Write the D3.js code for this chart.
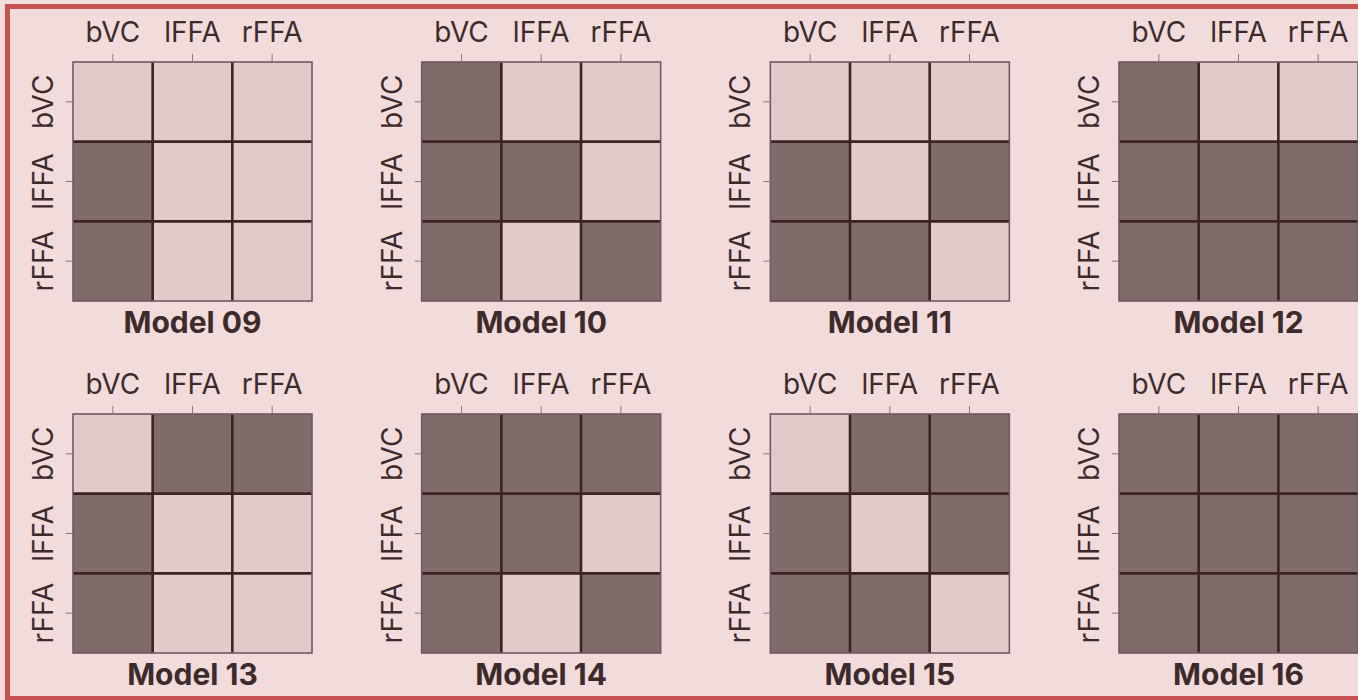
<!DOCTYPE html>
<html>
<head>
<meta charset="utf-8">
<script src="https://cdn.jsdelivr.net/npm/d3@7"></script>
<style>
  html, body { margin: 0; padding: 0; background: #f2dcdb; }
  svg { display: block; }
  text { font-family: Inter, "Noto Sans", sans-serif; fill: #3d2b2b; }
</style>
</head>
<body>
<svg id="chart" width="1358" height="700"></svg>
<script>
// Region labels (rows and columns of every matrix)
const regions = ["bVC", "lFFA", "rFFA"];
// Model names
const models = ["Model 09", "Model 10", "Model 11", "Model 12",
                "Model 13", "Model 14", "Model 15", "Model 16"];
// Connection matrices: 1 = present (dark), 0 = absent (light); rows = bVC, lFFA, rFFA
const model09 = [[0,0,0],[1,0,0],[1,0,0]];
const model10 = [[1,0,0],[1,1,0],[1,0,1]];
const model11 = [[0,0,0],[1,0,1],[1,1,0]];
const model12 = [[1,0,0],[1,1,1],[1,1,1]];
const model13 = [[0,1,1],[1,0,0],[1,0,0]];
const model14 = [[1,1,1],[1,1,0],[1,0,1]];
const model15 = [[0,1,1],[1,0,1],[1,1,0]];
const model16 = [[1,1,1],[1,1,1],[1,1,1]];
const matrices = [model09, model10, model11, model12, model13, model14, model15, model16];

const svg = d3.select("#chart");

// outer frame
svg.append("rect")
  .attr("x", 7.5).attr("y", 6.5)
  .attr("width", 1400).attr("height", 692)
  .attr("fill", "#f2dcdb")
  .attr("stroke", "#c65351").attr("stroke-width", 5);

const size = 239;
const colStep = 348.67;
const x0 = 73, rowY = [62, 414];

const color = d3.scaleOrdinal().domain([0, 1]).range(["#e0caca", "#7f6b6a"]);

models.forEach((name, idx) => {
  const col = idx % 4, row = Math.floor(idx / 4);
  const g = svg.append("g")
    .attr("transform", `translate(${x0 + col * colStep},${rowY[row]})`);

  const x = d3.scaleBand().domain(regions).range([0, size]);
  const y = d3.scaleBand().domain(regions).range([0, size]);

  const cells = [];
  matrices[idx].forEach((r, i) => r.forEach((v, j) =>
    cells.push({ row: regions[i], col: regions[j], v })));

  g.selectAll("rect.cell").data(cells).join("rect")
    .attr("class", "cell")
    .attr("x", d => x(d.col)).attr("y", d => y(d.row))
    .attr("width", x.bandwidth()).attr("height", y.bandwidth())
    .attr("fill", d => color(d.v));

  // internal grid lines
  regions.slice(1).forEach(r => {
    g.append("line").attr("x1", x(r)).attr("x2", x(r)).attr("y1", 0).attr("y2", size)
      .attr("stroke", "#3a2424").attr("stroke-width", 2.6);
    g.append("line").attr("y1", y(r)).attr("y2", y(r)).attr("x1", 0).attr("x2", size)
      .attr("stroke", "#3a2424").attr("stroke-width", 2.6);
  });
  g.append("rect").attr("x", 0).attr("y", 0).attr("width", size).attr("height", size)
    .attr("fill", "none").attr("stroke", "#6e5b5b").attr("stroke-width", 1.6);

  // top axis
  const ax = g.append("g").call(d3.axisTop(x).tickSize(8).tickPadding(12));
  ax.select(".domain").remove();
  ax.selectAll(".tick line").attr("stroke", "#8a7a7a").attr("stroke-width", 1);
  ax.selectAll(".tick text").attr("font-size", 28).attr("fill", "#3d2b2b")
    .style("font-family", "Inter, sans-serif");

  // left axis (rotated labels)
  const ay = g.append("g").call(d3.axisLeft(y).tickSize(7));
  ay.select(".domain").remove();
  ay.selectAll(".tick line").attr("stroke", "#8a7a7a").attr("stroke-width", 1);
  ay.selectAll(".tick text")
    .attr("x", null).attr("dy", null).attr("y", 0)
    .attr("text-anchor", "middle")
    .attr("transform", "translate(-20,0) rotate(-90)")
    .attr("font-size", 28).attr("fill", "#3d2b2b")
    .style("font-family", "Inter, sans-serif");

  // title
  g.append("text")
    .attr("x", size / 2).attr("y", size + 32)
    .attr("text-anchor", "middle")
    .attr("font-size", 30).attr("font-weight", 700)
    .text(name);
});
</script>
</body>
</html>
